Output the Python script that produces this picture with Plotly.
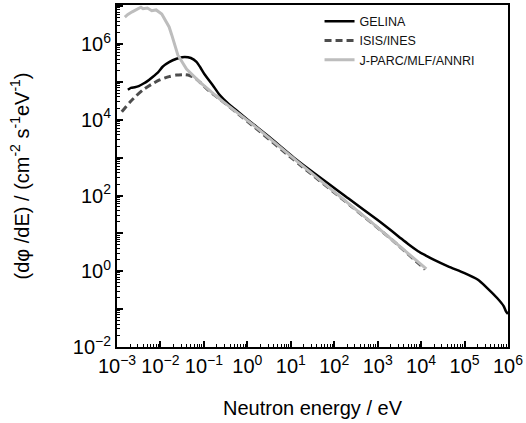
import numpy as np
import plotly.graph_objects as go

# Data (log10 of energy in eV, log10 of flux)
gelina_logE = [-2.75, -2.68, -2.59, -2.5, -2.4, -2.3, -2.18, -2.05, -1.95, -1.8, -1.63, -1.5, -1.44,
               -1.3, -1.17, -1.08, -0.99, -0.8, -0.64, -0.45, -0.2, 0.0, 0.5, 1.19, 2.33, 3.0, 3.48,
               3.7, 3.93, 4.1, 4.3, 4.62, 5.0, 5.3, 5.51, 5.76, 5.9, 5.95, 6.0]
gelina_logF = [4.79, 4.84, 4.86, 4.89, 4.95, 5.02, 5.13, 5.26, 5.40, 5.52, 5.61, 5.65, 5.66,
               5.63, 5.53, 5.38, 5.21, 4.92, 4.66, 4.44, 4.2, 4.01, 3.55, 2.89, 1.92, 1.35, 0.92,
               0.72, 0.53, 0.42, 0.30, 0.13, -0.05, -0.22, -0.43, -0.72, -0.92, -1.05, -1.13]

isis_logE = [-2.89, -2.7, -2.55, -2.4, -2.2, -2.02, -1.8, -1.63, -1.45, -1.33, -1.2, -1.1,
             -0.9, -0.64, 0.0, 1.19, 2.4, 3.32, 4.09]
isis_logF = [4.21, 4.47, 4.64, 4.79, 4.94, 5.05, 5.14, 5.18, 5.19, 5.17, 5.10, 5.0,
             4.78, 4.55, 3.96, 2.83, 1.71, 0.84, 0.05]

jparc_logE = [-2.82, -2.75, -2.65, -2.55, -2.45, -2.4, -2.3, -2.2, -2.1, -1.97, -1.9, -1.8,
              -1.74, -1.6, -1.4, -1.1, -0.64, 0.27, 1.19, 2.4, 2.9, 3.3, 4.12]
jparc_logF = [6.71, 6.78, 6.85, 6.90, 6.97, 6.93, 6.95, 6.88, 6.90, 6.79, 6.65, 6.45,
              6.24, 5.71, 5.34, 5.0, 4.55, 3.74, 2.86, 1.73, 1.25, 0.86, 0.06]

x_decades = list(range(-3, 7))
y_decades = list(range(-2, 8))

def p(v):
    return 10.0 ** np.array(v)

fig = go.Figure()
fig.add_trace(go.Scatter(x=p(gelina_logE), y=p(gelina_logF), mode="lines", name="GELINA",
                         line=dict(color="black", width=2.5, shape="spline", smoothing=0.6)))
fig.add_trace(go.Scatter(x=p(isis_logE), y=p(isis_logF), mode="lines", name="ISIS/INES",
                         line=dict(color="#4d4d4d", width=3, dash="7px,4px",
                                   shape="spline", smoothing=0.6)))
fig.add_trace(go.Scatter(x=p(jparc_logE), y=p(jparc_logF), mode="lines", name="J-PARC/MLF/ANNRI",
                         line=dict(color="#bdbdbd", width=3)))

def sup(k):
    s = str(k).replace("-", "\u2212")
    return f"10<sup>{s}</sup>"

axis_common = dict(type="log", showline=True, linewidth=2, linecolor="black", mirror=True,
                   ticks="inside", ticklen=6, tickwidth=1.5, tickcolor="black",
                   showgrid=False, zeroline=False,
                   tickfont=dict(family="Liberation Sans, Arial", size=20, color="black"),
                   minor=dict(ticks="inside", ticklen=3, tickwidth=1, tickcolor="black",
                              dtick="D1", showgrid=False))

fig.update_xaxes(**axis_common, range=[-3, 6],
                 tickvals=[10.0 ** k for k in x_decades],
                 ticktext=[sup(k) for k in x_decades],
                 title=dict(text="Neutron energy / eV", standoff=25,
                            font=dict(family="Liberation Sans, Arial", size=20, color="black")))
fig.update_yaxes(**axis_common, range=[-2, 7.03],
                 tickvals=[10.0 ** k for k in y_decades],
                 ticktext=[sup(k) if k % 2 == 0 else "" for k in y_decades],
                 title=dict(text="(d\u03c6 /dE) / (cm<sup>-2</sup> s<sup>-1</sup>eV<sup>-1</sup>)",
                            standoff=38,
                            font=dict(family="Liberation Sans, Arial", size=20, color="black")))

fig.update_layout(width=526, height=423, margin=dict(l=117, r=16, t=3, b=76),
                  plot_bgcolor="white", paper_bgcolor="white",
                  font=dict(family="Liberation Sans, Arial", color="black"),
                  legend=dict(x=0.518, y=0.995, xanchor="left", yanchor="top",
                              bgcolor="rgba(0,0,0,0)", font=dict(size=12.5, color="#111"),
                              tracegroupgap=0))
fig.write_html("out.html")
